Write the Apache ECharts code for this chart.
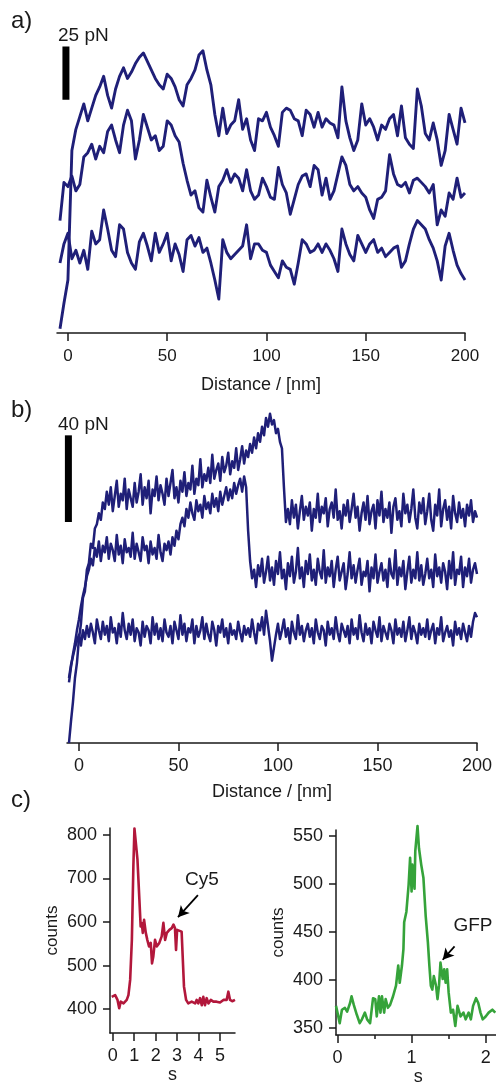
<!DOCTYPE html>
<html><head><meta charset="utf-8">
<script src="https://cdn.jsdelivr.net/npm/echarts@6/dist/echarts.min.js"></script>
<style>html,body{margin:0;padding:0;background:#fff}#c{width:496px;height:1084px}</style>
</head><body><div id="c"></div><script>
// ---------- data ----------
const distTicks = [0, 50, 100, 150, 200];
const cy5Ticks = [400, 500, 600, 700, 800];
const cy5TimeTicks = [0, 1, 2, 3, 4, 5];
const gfpTicks = [350, 400, 450, 500, 550];
const gfpTimeTicks = [0, 1, 2];
const gfpMinorTimeTicks = [0.5, 1.5];

// panel a: distance (nm) sampled every 2 nm
const distA = [-4,-2,0,2,4,6,8,10,12,14,16,18,20,22,24,26,28,30,32,34,36,38,40,42,44,46,48,50,52,54,56,58,60,62,64,66,68,70,72,74,76,78,80,82,84,86,88,90,92,94,96,98,100,102,104,106,108,110,112,114,116,118,120,122,124,126,128,130,132,134,136,138,140,142,144,146,148,150,152,154,156,158,160,162,164,166,168,170,172,174,176,178,180,182,184,186,188,190,192,194,196,198,200];
// force (pN, arbitrary offset)
const forceA1 = [2,14,25,86,96,102,108,100,106,112,116,121,112,106,115,121,125,120,123,127,130,132,128,124,120,117,115,122,120,116,110,107,117,120,124,131,133,124,117,103,93,106,94,98,100,110,96,101,91,86,101,100,104,97,93,88,104,106,105,101,100,93,105,103,97,104,97,101,99,98,92,116,100,92,86,91,108,98,101,97,91,98,96,101,103,93,107,92,89,87,115,107,94,91,99,91,79,86,103,96,89,106,99];
const forceA2 = [53,71,69,74,67,70,83,85,89,82,88,85,95,98,91,85,98,105,100,82,91,103,97,91,93,86,88,100,98,93,90,80,72,65,67,59,57,72,64,57,69,72,77,71,75,73,67,77,67,63,65,73,69,64,63,78,70,66,56,63,70,74,75,69,79,77,65,73,63,67,75,83,79,70,67,69,66,64,58,54,63,64,67,84,75,70,69,71,66,72,73,71,69,66,70,51,58,55,66,63,73,64,66];
const forceA3 = [33,42,47,35,39,33,39,30,48,42,44,58,49,39,36,51,49,38,33,30,43,47,41,34,47,38,42,47,34,42,37,29,44,46,41,45,38,40,33,25,16,44,38,35,37,39,41,51,35,42,42,39,38,32,29,26,34,31,30,23,33,44,42,38,39,42,38,42,39,35,29,49,42,37,34,46,42,38,42,44,38,40,36,38,40,41,31,34,42,49,53,51,49,44,40,34,25,41,47,39,32,28,25];

// panel b: distance (nm) sampled every 1 nm
const distB = [-5,-4,-3,-2,-1,0,1,2,3,4,5,6,7,8,9,10,11,12,13,14,15,16,17,18,19,20,21,22,23,24,25,26,27,28,29,30,31,32,33,34,35,36,37,38,39,40,41,42,43,44,45,46,47,48,49,50,51,52,53,54,55,56,57,58,59,60,61,62,63,64,65,66,67,68,69,70,71,72,73,74,75,76,77,78,79,80,81,82,83,84,85,86,87,88,89,90,91,92,93,94,95,96,97,98,99,100,101,102,103,104,105,106,107,108,109,110,111,112,113,114,115,116,117,118,119,120,121,122,123,124,125,126,127,128,129,130,131,132,133,134,135,136,137,138,139,140,141,142,143,144,145,146,147,148,149,150,151,152,153,154,155,156,157,158,159,160,161,162,163,164,165,166,167,168,169,170,171,172,173,174,175,176,177,178,179,180,181,182,183,184,185,186,187,188,189,190,191,192,193,194,195,196,197,198,199,200];
const forceB1 = [0,10,19,30,37,48,55,67,70,80, 83,92,90,99,101,106,103,111,108,116, 110,118,107,114,121,109,115,112,122,108, 117,113,109,120,111,116,124,110,118,113, 121,106,117,114,123,112,119,115,110,122, 114,120,126,113,118,111,121,116,125,114, 120,117,128,115,122,119,131,118,124,121, 127,120,133,122,126,129,121,132,125,128, 134,124,130,127,136,126,131,137,129,135, 132,138,134,141,136,143,139,146,142,150, 146,152,147,149,143,145,139,136,118,102, 108,101,112,104,110,99,107,114,103,109, 105,111,98,108,104,115,102,109,106,113, 100,108,111,104,117,103,107,99,110,105, 112,102,108,115,104,109,98,106,111,103, 114,101,107,110,99,112,105,116,102,108, 104,111,97,109,113,103,107,100,115,106, 110,102,108,117,104,99,111,106,113,101, 107,115,103,98,110,105,117,100,108,112, 103,109,99,114,106,102,111,104,108,100, 110,105,112,102,107,104];
const forceB2 = [28,35,41,46,52,57,63,68,72,77, 80,85,82,90,86,93,84,91,88,95, 85,92,89,84,96,87,91,83,94,88, 90,86,97,85,92,88,84,95,89,91, 83,93,87,90,85,96,88,84,92,89, 93,87,95,91,98,94,101,104,100,108, 104,111,106,103,112,107,110,104,114,108, 111,106,115,109,113,107,116,110,114,118, 112,117,113,120,115,119,122,116,123,118, 98,84,76,80,72,82,77,85,74,79, 86,75,81,73,84,78,88,76,80,71, 83,77,86,74,79,90,76,81,72,84, 78,87,75,80,73,85,79,76,89,74, 81,77,84,72,80,86,75,79,83,71, 78,88,76,82,74,80,85,73,79,77, 84,70,81,76,87,74,79,83,75,80, 72,85,78,76,89,73,81,77,84,71, 79,86,74,80,76,88,75,82,73,78, 85,76,80,72,87,77,81,74,83,79, 71,84,76,88,73,80,78,86,72,81, 77,85,74,80,83,78];
const forceB3 = [30,36,40,44,47,50,45,52,48,54, 49,55,51,46,57,52,48,56,50,54, 47,58,51,53,46,55,49,60,52,48, 55,50,57,47,53,51,45,56,49,54, 52,46,58,50,55,48,53,47,57,51, 49,54,46,56,52,48,59,50,55,47, 53,51,57,46,54,49,52,58,48,55, 50,47,56,52,45,54,51,57,49,53, 46,55,50,52,48,56,51,47,54,50, 53,49,57,51,46,55,52,58,50,61, 54,47,38,44,50,55,48,52,57,49, 53,46,56,51,48,59,50,54,47,52, 55,49,53,46,57,51,48,54,52,45, 56,50,53,48,58,51,47,55,52,49, 54,46,57,50,53,48,59,51,47,55, 50,53,46,56,52,49,58,47,54,51, 48,55,52,46,57,50,53,49,56,47, 52,58,48,54,51,46,55,50,53,49, 57,48,52,55,46,53,50,58,47,51, 54,49,52,45,56,50,53,48,55,51, 47,54,49,56,60,58];

// panel c: fluorescence counts vs time (s)
const cy5Time = [-0.05,0.11,0.22,0.30,0.37,0.5,0.65,0.73,0.81,0.89,0.96,1.01,1.09,1.15,1.24,1.30,1.35,1.40,1.46,1.54,1.61,1.69,1.77,1.83,1.89,1.97,2.05,2.17,2.28,2.36,2.44,2.52,2.64,2.75,2.83,2.90,2.95,3.0,3.06,3.21,3.26,3.32,3.42,3.52,3.68,3.84,3.91,3.99,4.07,4.15,4.22,4.30,4.38,4.46,4.57,4.69,4.84,5.0,5.16,5.31,5.39,5.47,5.57,5.70];
const cy5Counts = [428,432,421,402,417,413,421,432,467,559,728,815,813,744,652,590,598,575,605,575,559,544,552,505,521,559,544,552,567,598,559,575,582,586,594,586,536,582,578,578,578,452,421,413,417,413,421,413,425,409,428,409,425,413,421,417,417,415,421,421,440,421,418,421];
const gfpTime = [-0.02,0,0.03,0.06,0.10,0.13,0.17,0.19,0.22,0.26,0.30,0.33,0.37,0.40,0.44,0.48,0.51,0.53,0.56,0.58,0.60,0.63,0.65,0.68,0.71,0.75,0.79,0.82,0.84,0.87,0.89,0.90,0.93,0.96,0.98,1.0,1.01,1.04,1.05,1.08,1.10,1.13,1.16,1.19,1.22,1.24,1.26,1.28,1.30,1.33,1.35,1.37,1.39,1.42,1.44,1.46,1.48,1.50,1.53,1.56,1.59,1.62,1.66,1.70,1.73,1.77,1.80,1.83,1.87,1.90,1.93,1.96,2.0,2.04,2.09,2.13];
const gfpCounts = [373,366,355,369,371,367,376,383,374,364,355,359,366,359,355,381,380,362,383,366,383,366,380,371,374,383,394,415,397,415,432,460,471,499,527,492,520,495,534,560,537,520,506,467,439,415,394,390,404,394,380,394,418,401,411,397,411,387,366,369,352,373,362,366,359,366,359,373,381,376,366,359,362,366,369,366];

// scale bars (pN) and annotation arrows
const scaleBarA = { x: -1.0, from: 110, to: 135, label: '25 pN' };
const scaleBarB = { x: -5.3, from: 102, to: 142, label: '40 pN' };
const cy5Arrow = [[3.97, 662], [3.04, 611]];
const gfpArrow = [[1.58, 435], [1.42, 421]];

// ---------- styling ----------
const FONT = '"Liberation Sans", Arial, Helvetica, sans-serif';
const NAVY = '#1f1f78';
const RED = '#b2173b';
const GREEN = '#35a33a';
const INK = '#1a1a1a';

const pairs = (xs, ys) => xs.map((x, i) => [x, ys[i]]);
function trace(xs, ys, idx, color, w) {
  return { type: 'line', xAxisIndex: idx, yAxisIndex: idx, data: pairs(xs, ys),
    showSymbol: false, symbol: 'none', clip: false, silent: true, animation: false,
    lineStyle: { color: color, width: w || 2.5, join: 'round' }, itemStyle: { color: color } };
}
function bar(sb, idx) {
  return { type: 'line', xAxisIndex: idx, yAxisIndex: idx, data: [[sb.x, sb.from], [sb.x, sb.to]],
    showSymbol: false, symbol: 'none', clip: false, silent: true, animation: false,
    lineStyle: { color: '#000', width: 7, cap: 'butt' } };
}
function arrow(pts) {
  return { silent: true, symbol: ['none', 'arrow'], symbolSize: [9, 11], animation: false,
    label: { show: false }, lineStyle: { color: '#000', width: 1.8, type: 'solid' },
    data: [[{ coord: pts[0] }, { coord: pts[1] }]] };
}
function xAx(grid, min, max, ticks, o) {
  return Object.assign({ type: 'value', gridIndex: grid, min: min, max: max, position: 'bottom',
    splitLine: { show: false },
    axisLine: { show: true, onZero: false, lineStyle: { color: INK, width: 1.5 } },
    axisTick: { show: true, inside: false, length: 8, customValues: ticks, lineStyle: { color: INK, width: 1.5 } },
    axisLabel: { show: true, customValues: ticks, margin: 15, color: INK, fontSize: 17, fontFamily: FONT },
    nameLocation: 'middle', nameTextStyle: { color: INK, fontSize: 18, fontFamily: FONT } }, o);
}
function yAx(grid, min, max, ticks, o) {
  return Object.assign({ type: 'value', gridIndex: grid, min: min, max: max, position: 'left',
    splitLine: { show: false },
    axisLine: { show: true, onZero: false, lineStyle: { color: INK, width: 1.5 } },
    axisTick: { show: true, inside: false, length: 7, customValues: ticks, lineStyle: { color: INK, width: 1.5 } },
    axisLabel: { show: true, customValues: ticks, margin: 13, color: INK, fontSize: 18, fontFamily: FONT },
    name: 'counts', nameLocation: 'middle', nameRotate: 90, nameGap: 49,
    nameTextStyle: { color: INK, fontSize: 17, fontFamily: FONT } }, o);
}
const txt = (t, x, y, size, align) => ({ type: 'text', x: x, y: y, silent: true,
  style: { text: t, font: size + 'px ' + FONT, fill: INK, align: align || 'left', verticalAlign: 'middle' } });

const option = {
  backgroundColor: '#fff',
  animation: false,
  grid: [
    { left: 57, top: 36, width: 408, height: 297, outerBoundsMode: 'none' },
    { left: 67, top: 405, width: 410, height: 338, outerBoundsMode: 'none' },
    { left: 110, top: 828, width: 125, height: 205, outerBoundsMode: 'none' },
    { left: 336, top: 830, width: 164.5, height: 205, outerBoundsMode: 'none' }
  ],
  xAxis: [
    xAx(0, -5.5, 200, distTicks, { name: 'Distance / [nm]', nameGap: 43 }),
    xAx(1, -6, 200, distTicks, { name: 'Distance / [nm]', nameGap: 40,
      axisLabel: { customValues: distTicks, margin: 14, color: INK, fontSize: 18, fontFamily: FONT } }),
    xAx(2, -0.13, 5.7, cy5TimeTicks, { name: 's', nameGap: 31,
      axisLabel: { customValues: cy5TimeTicks, margin: 14, color: INK, fontSize: 18, fontFamily: FONT },
      nameTextStyle: { color: INK, fontSize: 18, fontFamily: FONT } }),
    xAx(3, -0.02, 2.2, gfpTimeTicks, { name: 's', nameGap: 33,
      axisLabel: { customValues: gfpTimeTicks, margin: 14, color: INK, fontSize: 18, fontFamily: FONT },
      nameTextStyle: { color: INK, fontSize: 18, fontFamily: FONT } }),
    xAx(3, -0.02, 2.2, gfpMinorTimeTicks, { axisLine: { show: false },
      axisTick: { show: true, length: 4, customValues: gfpMinorTimeTicks, lineStyle: { color: INK, width: 1.5 } },
      axisLabel: { show: false }, name: '' })
  ],
  yAxis: [
    { type: 'value', gridIndex: 0, min: 0, max: 140, show: false, splitLine: { show: false } },
    { type: 'value', gridIndex: 1, min: 0, max: 156, show: false, splitLine: { show: false } },
    yAx(2, 345, 816, cy5Ticks),
    yAx(3, 342.7, 556, gfpTicks)
  ],
  series: [
    trace(distA, forceA3, 0, NAVY, 2.9),
    trace(distA, forceA2, 0, NAVY, 2.9),
    trace(distA, forceA1, 0, NAVY, 2.9),
    bar(scaleBarA, 0),
    trace(distB, forceB3, 1, NAVY, 2.5),
    trace(distB, forceB2, 1, NAVY, 2.5),
    trace(distB, forceB1, 1, NAVY, 2.5),
    bar(scaleBarB, 1),
    Object.assign(trace(cy5Time, cy5Counts, 2, RED, 2.6), { markLine: arrow(cy5Arrow) }),
    Object.assign(trace(gfpTime, gfpCounts, 3, GREEN, 2.6), { markLine: arrow(gfpArrow) })
  ],
  graphic: [
    txt('a)', 11, 21, 24),
    txt('b)', 11, 410, 24),
    txt('c)', 11, 800, 24),
    txt(scaleBarA.label, 58, 36, 19),
    txt(scaleBarB.label, 58, 425, 19),
    txt('Cy5', 202, 880, 19, 'center'),
    txt('GFP', 473, 926, 19, 'center')
  ]
};
const chart = echarts.init(document.getElementById('c'), null, { renderer: 'canvas' });
chart.setOption(option);
</script></body></html>
